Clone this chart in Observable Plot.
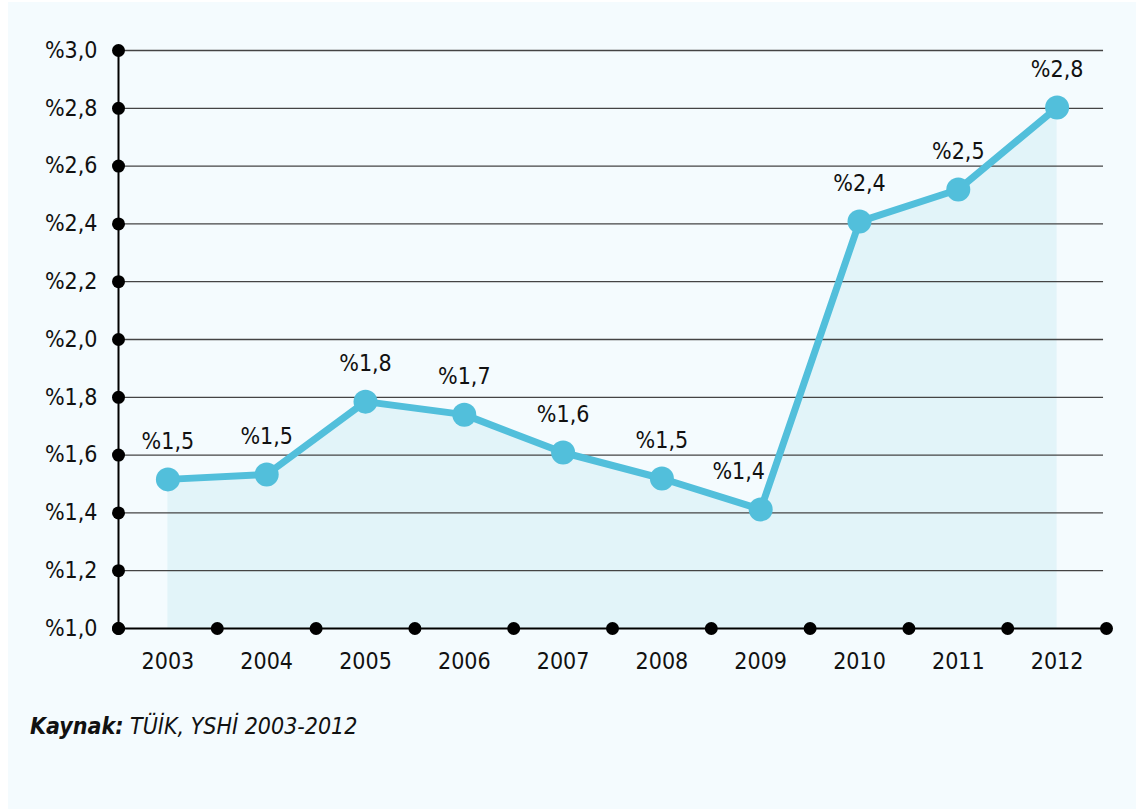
<!DOCTYPE html>
<html>
<head>
<meta charset="utf-8">
<script src="https://cdn.jsdelivr.net/npm/d3@7"></script>
<script src="https://cdn.jsdelivr.net/npm/@observablehq/plot@0.6"></script>
<style>
  html, body { margin: 0; padding: 0; background: #ffffff; }
  #wrap { margin-left: 8px; margin-top: 2px; width: 1128px; height: 807px; background: #f4fbfe; position: relative; }
  #chart svg { display: block; }
  #caption { position: absolute; left: 22px; top: 711px; font-family: "DejaVu Sans Condensed", "DejaVu Sans", sans-serif; font-style: italic; font-size: 23px; color: #111; }
  #caption b { font-weight: bold; }
</style>
</head>
<body>
<div id="wrap">
  <div id="chart"></div>
  <div id="caption"><b>Kaynak:</b> TÜİK, YSHİ 2003-2012</div>
</div>
<script>
const years = [2003, 2004, 2005, 2006, 2007, 2008, 2009, 2010, 2011, 2012];
const values = [1.516, 1.533, 1.785, 1.74, 1.609, 1.519, 1.412, 2.408, 2.519, 2.803];
const yTicks = [1.0, 1.2, 1.4, 1.6, 1.8, 2.0, 2.2, 2.4, 2.6, 2.8, 3.0];
const xDividers = [2002.5, 2003.5, 2004.5, 2005.5, 2006.5, 2007.5, 2008.5, 2009.5, 2010.5, 2011.5, 2012.5];
const shiftedYears = [2009];

const data = years.map((y, i) => ({year: y, value: values[i], label: "%" + values[i].toFixed(1).replace(".", ",")}));
const fmtY = d => "%" + d.toFixed(1).replace(".", ",");
const font = "'DejaVu Sans Condensed', 'DejaVu Sans', sans-serif";
const fs = 23;

const plot = Plot.plot({
  width: 1128,
  height: 700,
  marginLeft: 110,
  marginRight: 30,
  marginTop: 48,
  marginBottom: 74,
  style: {background: "transparent", fontFamily: font, fontSize: fs + "px", color: "#111"},
  x: {domain: [2002.5, 2012.5], axis: null},
  y: {domain: [1.0, 3.0], axis: null},
  marks: [
    Plot.areaY(data, {x: "year", y1: 1.0, y2: "value", fill: "#e2f4f9"}),
    Plot.ruleY(yTicks.slice(1), {x1: 2002.5, x2: 2012.47, stroke: "#444", strokeWidth: 1.3}),
    Plot.ruleY([1.0], {x1: 2002.5, x2: 2012.5, stroke: "#000", strokeWidth: 2}),
    Plot.ruleX([2002.5], {y1: 1.0, y2: 3.0, stroke: "#000", strokeWidth: 2}),
    Plot.line(data, {x: "year", y: "value", stroke: "#52bfdb", strokeWidth: 7, strokeLinejoin: "round"}),
    Plot.dot(data, {x: "year", y: "value", r: 12, fill: "#52bfdb", stroke: null}),
    Plot.text(data.filter(d => !shiftedYears.includes(d.year)), {x: "year", y: "value", text: "label", dy: -38, fill: "#111", fontSize: fs}),
    Plot.text(data.filter(d => shiftedYears.includes(d.year)), {x: "year", y: "value", text: "label", dy: -38, dx: -22, fill: "#111", fontSize: fs}),
    Plot.dot(yTicks, {x: 2002.5, y: d => d, r: 6.5, fill: "#000"}),
    Plot.dot(xDividers, {x: d => d, y: 1.0, r: 6.5, fill: "#000"}),
    Plot.text(yTicks, {x: 2002.5, y: d => d, text: fmtY, textAnchor: "end", dx: -21, fill: "#111", fontSize: fs}),
    Plot.text(years, {x: d => d, y: 1.0, text: d => String(d), dy: 33, fill: "#111", fontSize: fs})
  ]
});
document.getElementById("chart").appendChild(plot);
</script>
</body>
</html>
